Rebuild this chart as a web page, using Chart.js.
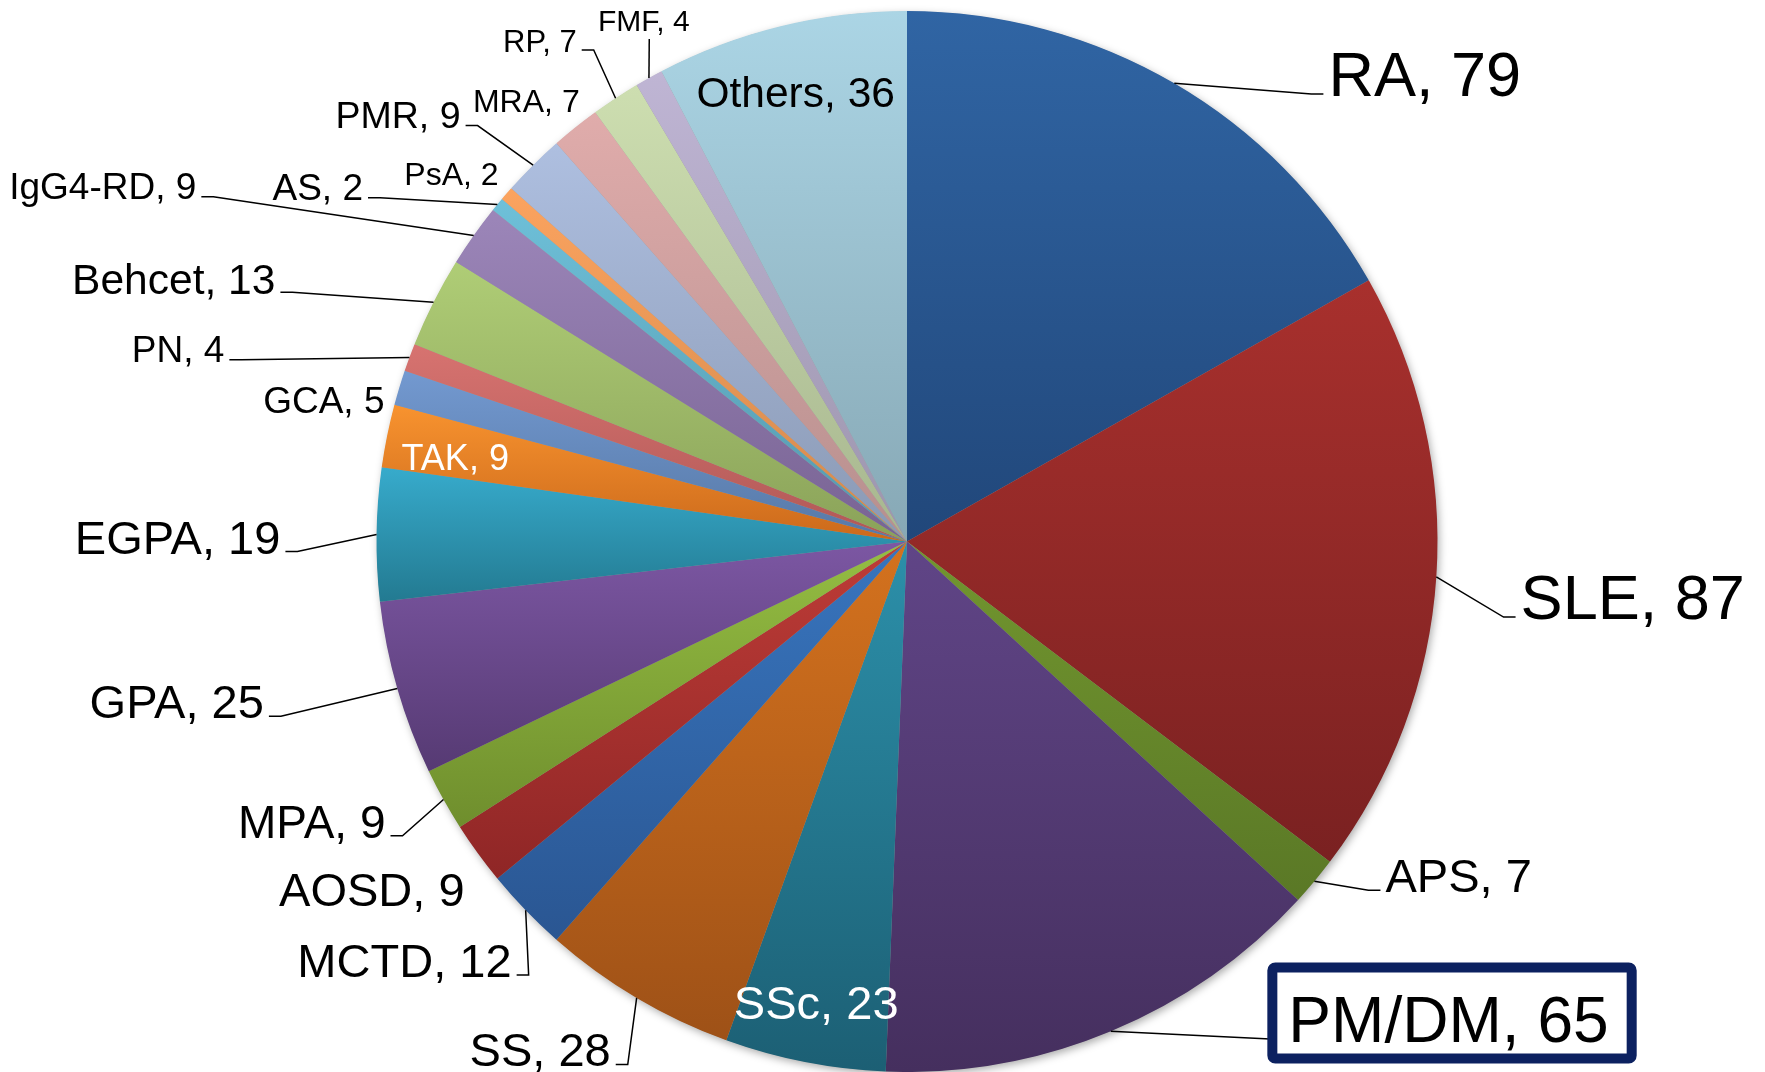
<!DOCTYPE html>
<html>
<head>
<meta charset="utf-8">
<script src="https://cdn.jsdelivr.net/npm/chart.js@4.4.1/dist/chart.umd.min.js"></script>
<style>
    html, body { margin: 0; padding: 0; background: #fff; }
    #wrap { width: 1765px; height: 1072px; }
</style>
</head>
<body>
<div id="wrap"><canvas id="disease-chart" width="1765" height="1072"></canvas></div>
<script>
// diseases and number of patients, clockwise from 12 o'clock
const diseases = ['RA', 'SLE', 'APS', 'PM/DM', 'SSc', 'SS', 'MCTD', 'AOSD', 'MPA', 'GPA', 'EGPA', 'TAK',
    'GCA', 'PN', 'Behcet', 'IgG4-RD', 'AS', 'PsA', 'PMR', 'MRA', 'RP', 'FMF', 'Others'];
const patientCounts = [79, 87, 7, 65, 23, 28, 12, 9, 9, 25, 19, 9, 5, 4, 13, 9, 2, 2, 9, 7, 7, 4, 36];

// slice colours: top and bottom of each slice's gradient
const topColors = ['#3065A4', '#A8302D', '#72962F', '#604587', '#2C90AA', '#D4721E', '#3875BE', '#BE3C37',
    '#95BE43', '#7C57A3', '#37ABCC', '#F8932F', '#7399D0', '#D77370', '#AFCD76', '#9C86B9', '#6EC0D9',
    '#FBA35F', '#AEBFE0', '#E0ACAB', '#CDDEB0', '#BFB5D4', '#ABD5E5'];
const bottomColors = ['#21477A', '#7A2121', '#5A7826', '#452F5E', '#1C5F74', '#9E5117', '#2A5692', '#8F2626',
    '#6F8E2D', '#563A73', '#237A91', '#CB691B', '#5678A6', '#B05856', '#8AA259', '#786393', '#5598AC',
    '#D2894D', '#8A99B4', '#B68F8E', '#A7B68F', '#9C95AD', '#87A8B5'];

// label placement, offsets from the pie centre for a 530px radius
const labelLayout = [
    { side: 'right', elbow: [404, -447], size: 63 },
    { side: 'right', elbow: [596, 75.5], size: 63 },
    { side: 'right', elbow: [461, 348.5], size: 47 },
    { side: 'box', elbow: [373, 497.5], text: [381, 500], box: [365, 425.5, 359, 91], size: 64 },
    { text: [-173, 477], align: 'left', size: 47, color: '#fff' },
    { side: 'left', elbow: [-279, 522.5], size: 47 },
    { side: 'left', elbow: [-378, 433], size: 47 },
    { text: [-442, 364.5], align: 'right', size: 47 },
    { side: 'left', elbow: [-504, 294], size: 46 },
    { side: 'left', elbow: [-625.5, 174.5], size: 47 },
    { side: 'left', elbow: [-609, 10], size: 47 },
    { text: [-505, -71], align: 'left', size: 36, color: '#fff' },
    { text: [-522, -128.5], align: 'right', size: 37 },
    { side: 'left', elbow: [-665, -181.5], size: 37 },
    { side: 'left', elbow: [-614, -249], size: 42.5 },
    { side: 'left', elbow: [-693, -344.5], size: 37 },
    { side: 'left', elbow: [-526.5, -343.5], size: 37 },
    { text: [-408, -356], align: 'right', size: 32 },
    { side: 'left', elbow: [-429, -415.5], size: 37.5 },
    { text: [-327, -429], align: 'right', size: 32 },
    { side: 'left', elbow: [-313, -491], size: 31 },
    { side: 'up', elbow: [-257.5, -502], text: [-263, -510], size: 30 },
    { text: [-12, -434.5], align: 'right', size: 42.5 }
];

const FONT = '"Liberation Sans", Arial, sans-serif';

// vertical gradient across the bounding box of each slice
function sliceGradient(context) {
    const i = context.dataIndex;
    const chart = context.chart;
    const area = chart.chartArea;
    if (i === undefined || !area) return topColors[0];
    const cx = (area.left + area.right) / 2;
    const cy = (area.top + area.bottom) / 2;
    const r = Math.min(area.width, area.height) / 2;
    const total = patientCounts.reduce((a, b) => a + b, 0);
    let before = 0;
    for (let k = 0; k < i; k++) before += patientCounts[k];
    const a0 = -Math.PI / 2 + before / total * Math.PI * 2;
    const a1 = a0 + patientCounts[i] / total * Math.PI * 2;
    let minY = Math.min(cy, cy + r * Math.sin(a0), cy + r * Math.sin(a1));
    let maxY = Math.max(cy, cy + r * Math.sin(a0), cy + r * Math.sin(a1));
    if (a0 <= Math.PI / 2 && a1 >= Math.PI / 2) maxY = cy + r;
    if (a0 <= -Math.PI / 2 + 1e-6 || a1 >= 1.5 * Math.PI - 1e-6) minY = cy - r;
    const g = chart.ctx.createLinearGradient(0, minY, 0, maxY);
    g.addColorStop(0, topColors[i]);
    g.addColorStop(1, bottomColors[i]);
    return g;
}

// soft shadow under the pie
const shadowPlugin = {
    id: 'pieShadow',
    beforeDatasetsDraw(chart) {
        const arc = chart.getDatasetMeta(0).data[0];
        if (!arc) return;
        const p = arc.getProps(['x', 'y', 'outerRadius'], true);
        const ctx = chart.ctx;
        ctx.save();
        ctx.shadowColor = 'rgba(0, 0, 0, 0.35)';
        ctx.shadowBlur = 8;
        ctx.shadowOffsetX = 2;
        ctx.shadowOffsetY = 3;
        ctx.fillStyle = '#9a9a9a';
        ctx.beginPath();
        ctx.arc(p.x, p.y, p.outerRadius - 0.5, 0, Math.PI * 2);
        ctx.fill();
        ctx.restore();
    }
};

// data labels with leader lines
const labelPlugin = {
    id: 'pieLabels',
    afterDatasetsDraw(chart) {
        const ctx = chart.ctx;
        const meta = chart.getDatasetMeta(0);
        meta.data.forEach((arc, i) => {
            const p = arc.getProps(['x', 'y', 'startAngle', 'endAngle', 'outerRadius'], true);
            const k = p.outerRadius / 530;
            const lay = labelLayout[i];
            const text = diseases[i] + ', ' + patientCounts[i];
            const mid = (p.startAngle + p.endAngle) / 2;
            const sx = p.x + Math.cos(mid) * p.outerRadius;
            const sy = p.y + Math.sin(mid) * p.outerRadius;

            ctx.save();
            ctx.font = (lay.size * k) + 'px ' + FONT;
            ctx.fillStyle = lay.color || '#000';
            ctx.textBaseline = 'alphabetic';
            ctx.strokeStyle = '#000';
            ctx.lineWidth = 1.5;

            if (lay.side) {
                const ex = p.x + lay.elbow[0] * k;
                const ey = p.y + lay.elbow[1] * k;
                let tx, ty = ey + 2 * k;
                ctx.beginPath();
                ctx.moveTo(sx, sy);
                ctx.lineTo(ex, ey);
                if (lay.side === 'right') {
                    ctx.lineTo(ex + 12 * k, ey);
                    tx = ex + 17 * k;
                    ctx.textAlign = 'left';
                } else if (lay.side === 'left') {
                    ctx.lineTo(ex - 12 * k, ey);
                    tx = ex - 17 * k;
                    ctx.textAlign = 'right';
                } else {
                    tx = p.x + lay.text[0] * k;
                    ty = p.y + lay.text[1] * k;
                    ctx.textAlign = lay.side === 'up' ? 'center' : 'left';
                }
                ctx.stroke();
                if (lay.box) {
                    const b = lay.box;
                    ctx.fillStyle = '#fff';
                    ctx.strokeStyle = '#0C2160';
                    ctx.lineWidth = 10 * k;
                    ctx.beginPath();
                    ctx.roundRect(p.x + b[0] * k, p.y + b[1] * k, b[2] * k, b[3] * k, 3);
                    ctx.fill();
                    ctx.stroke();
                    ctx.fillStyle = '#000';
                }
                ctx.fillText(text, tx, ty);
            } else {
                ctx.textAlign = lay.align;
                ctx.fillText(text, p.x + lay.text[0] * k, p.y + lay.text[1] * k);
            }
            ctx.restore();
        });
    }
};

const chartCtx = document.getElementById('disease-chart').getContext('2d');
new Chart(chartCtx, {
    type: 'pie',
    data: {
        labels: diseases,
        datasets: [{
            data: patientCounts,
            backgroundColor: sliceGradient,
            borderWidth: 0,
            hoverOffset: 0
        }]
    },
    options: {
        responsive: false,
        animation: false,
        devicePixelRatio: 1,
        events: [],
        layout: { padding: { left: 49, right: 0, top: 11, bottom: 0 } },
        plugins: {
            legend: { display: false },
            tooltip: { enabled: false }
        }
    },
    plugins: [shadowPlugin, labelPlugin]
});
</script>
</body>
</html>
